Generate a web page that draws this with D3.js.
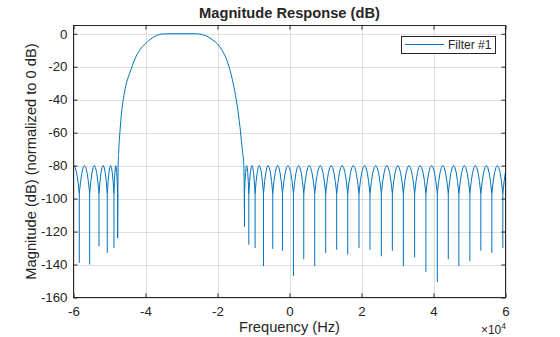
<!DOCTYPE html>
<html><head><meta charset="utf-8">
<script src="https://cdn.jsdelivr.net/npm/d3@7"></script>
<style>
body{margin:0;background:#fff}
svg{display:block}
text{font-family:"Liberation Sans",Arial,Helvetica,sans-serif;fill:#262626}
</style>
</head><body>
<svg id="chart" width="560" height="337"></svg>
<script>
// ---- data (frequency in Hz, magnitude in dB) ----
const xTickValues = [-60000, -40000, -20000, 0, 20000, 40000, 60000];
const xTickLabels = ["-6", "-4", "-2", "0", "2", "4", "6"];
const yTickValues = [-160, -140, -120, -100, -80, -60, -40, -20, 0];
const yTickLabels = ["-160", "-140", "-120", "-100", "-80", "-60", "-40", "-20", "0"];

// passband and transition bands
const passbandFreqs = [-47600, -47450, -47100, -46630, -45990, -45240, -44320, -42940, -41550, -40080,
  -38770, -36920, -35080, -33200, -30000, -26290, -23520, -21210, -19990, -18430,
  -17050, -15940, -15000, -14270, -13610, -13050, -12680];
const passbandMag = [-80, -71.6, -59.5, -47.5, -37.5, -29.5, -23.5, -15.3, -9.7, -6.2,
  -3.6, -1.0, -0.1, 0, 0, 0, -1.0, -4.0, -6.2, -11.2,
  -18.2, -27.2, -37.3, -47.5, -59.5, -71.6, -80];

// stopband nulls (lower stopband), first one lies just outside the plot
const lowerNullFreqs = [-61400, -58390, -55510, -52920, -50620, -48760, -47740];
const lowerNullDepth = [-130, -139, -140, -129, -133, -130, -124];
// stopband nulls (upper stopband), last one lies just outside the plot
const upperNullFreqs = [-12500, -11300, -9560, -7220, -4650, -1950, 1100, 3960, 7010, 10060,
  13110, 16170, 19300, 22360, 25520, 28570, 31620, 34760, 37890, 41060,
  44110, 47050, 50100, 53150, 56210, 59260, 62100];
const upperNullDepth = [-117, -128, -130, -141, -130.5, -131.6, -147, -136.8, -141, -133,
  -131, -134, -130, -131, -135, -131.6, -141, -135.6, -144.5, -150.6,
  -136.8, -141, -138, -131.6, -133, -130, -130];
const sidelobePeak = -80;   // equiripple stopband level
const lobeJoin = -97;       // level where neighbouring sidelobes meet

const legendLabel = "Filter #1";
const titleText = "Magnitude Response (dB)";
const xLabelText = "Frequency (Hz)";
const yLabelText = "Magnitude (dB) (normalized to 0 dB)";

// ---- layout ----
const svg = d3.select("#chart");
const L = 73.5, R = 505.5, T = 25.5, B = 297.5;
const x = d3.scaleLinear().domain([-60000, 60000]).range([L, R]);
const y = d3.scaleLinear().domain([-160, 5]).range([B, T]);
const axisColor = "#262626";
const lineColor = "#0072BD";

// grid
const grid = svg.append("g");
xTickValues.forEach(v => {
  grid.append("line").attr("x1", Math.round(x(v)) + 0.5).attr("x2", Math.round(x(v)) + 0.5)
    .attr("y1", T).attr("y2", B).attr("stroke", "#dfdfdf").attr("stroke-width", 1);
});
yTickValues.forEach(v => {
  grid.append("line").attr("y1", Math.round(y(v)) + 0.5).attr("y2", Math.round(y(v)) + 0.5)
    .attr("x1", L).attr("x2", R).attr("stroke", "#dfdfdf").attr("stroke-width", 1);
});

// clip
svg.append("clipPath").attr("id", "clip").append("rect")
  .attr("x", L).attr("y", T).attr("width", R - L).attr("height", B - T);
const plot = svg.append("g").attr("clip-path", "url(#clip)");

// sidelobes + nulls
function stopbandPath(freqs, depths) {
  const p = d3.path();
  for (let i = 0; i < freqs.length - 1; i++) {
    const x0 = x(freqs[i]), x1 = x(freqs[i + 1]);
    const yj = y(lobeJoin), yp = y(sidelobePeak);
    p.moveTo(x0, yj);
    p.quadraticCurveTo((x0 + x1) / 2, 2 * yp - yj, x1, yj);
  }
  freqs.forEach((f, i) => {
    p.moveTo(x(f), y(lobeJoin));
    p.lineTo(x(f), y(depths[i]));
  });
  return p.toString();
}
plot.append("path").attr("d", stopbandPath(lowerNullFreqs, lowerNullDepth))
  .attr("fill", "none").attr("stroke", lineColor).attr("stroke-width", 1);
plot.append("path").attr("d", stopbandPath(upperNullFreqs, upperNullDepth))
  .attr("fill", "none").attr("stroke", lineColor).attr("stroke-width", 1);

// passband
const pbF = [lowerNullFreqs[lowerNullFreqs.length - 1], ...passbandFreqs, upperNullFreqs[0]];
const pbM = [lowerNullDepth[lowerNullDepth.length - 1], ...passbandMag, upperNullDepth[0]];
const line = d3.line().x(d => x(d[0])).y(d => y(d[1])).curve(d3.curveMonotoneX);
plot.append("path").attr("d", line(pbF.map((f, i) => [f, pbM[i]])))
  .attr("fill", "none").attr("stroke", lineColor).attr("stroke-width", 1);

// axes box
const tickLen = 4;
const ax = svg.append("g");
ax.append("rect").attr("x", L).attr("y", T).attr("width", R - L).attr("height", B - T)
  .attr("fill", "none").attr("stroke", axisColor).attr("stroke-width", 1);

const bottomAxis = d3.axisBottom(x).tickValues(xTickValues).tickSizeInner(-tickLen).tickSizeOuter(0)
  .tickPadding(9).tickFormat((d, i) => xTickLabels[i]);
const gB = ax.append("g").attr("transform", `translate(0,${B})`).call(bottomAxis);
const topAxis = d3.axisTop(x).tickValues(xTickValues).tickSizeInner(-tickLen).tickSizeOuter(0).tickFormat("");
const gT = ax.append("g").attr("transform", `translate(0,${T})`).call(topAxis);
const leftAxis = d3.axisLeft(y).tickValues(yTickValues).tickSizeInner(-tickLen).tickSizeOuter(0)
  .tickPadding(6).tickFormat((d, i) => yTickLabels[i]);
const gL = ax.append("g").attr("transform", `translate(${L},0)`).call(leftAxis);
const rightAxis = d3.axisRight(y).tickValues(yTickValues).tickSizeInner(-tickLen).tickSizeOuter(0).tickFormat("");
const gR = ax.append("g").attr("transform", `translate(${R},0)`).call(rightAxis);
[gB, gT, gL, gR].forEach(g => {
  g.select(".domain").remove();
  g.selectAll("line").attr("stroke", axisColor);
  g.selectAll("text").attr("fill", axisColor).style("font-size", "13.3px")
    .style("font-family", '"Liberation Sans",Arial,sans-serif');
});

// exponent label
const expG = svg.append("text").attr("x", 506).attr("y", 333.5).attr("text-anchor", "end")
  .style("font-size", "12px");
expG.append("tspan").text("\u00d710");
expG.append("tspan").attr("dy", -5).style("font-size", "8.5px").text("4");

// labels
svg.append("text").attr("x", (L + R) / 2).attr("y", 18).attr("text-anchor", "middle")
  .style("font-size", "14.67px").style("font-weight", "bold").text(titleText);
svg.append("text").attr("x", (L + R) / 2).attr("y", 332).attr("text-anchor", "middle")
  .style("font-size", "14.67px").text(xLabelText);
svg.append("text").attr("transform", `translate(36,${(T + B) / 2}) rotate(-90)`)
  .attr("text-anchor", "middle").style("font-size", "14.67px").text(yLabelText);

// legend
const lg = svg.append("g");
lg.append("rect").attr("x", 401.5).attr("y", 36.5).attr("width", 94).attr("height", 17)
  .attr("fill", "#fff").attr("stroke", axisColor).attr("stroke-width", 1);
lg.append("line").attr("x1", 405).attr("x2", 444).attr("y1", 44.5).attr("y2", 44.5)
  .attr("stroke", lineColor).attr("stroke-width", 1);
lg.append("text").attr("x", 448).attr("y", 49).style("font-size", "12px").text(legendLabel);
</script>
</body></html>
